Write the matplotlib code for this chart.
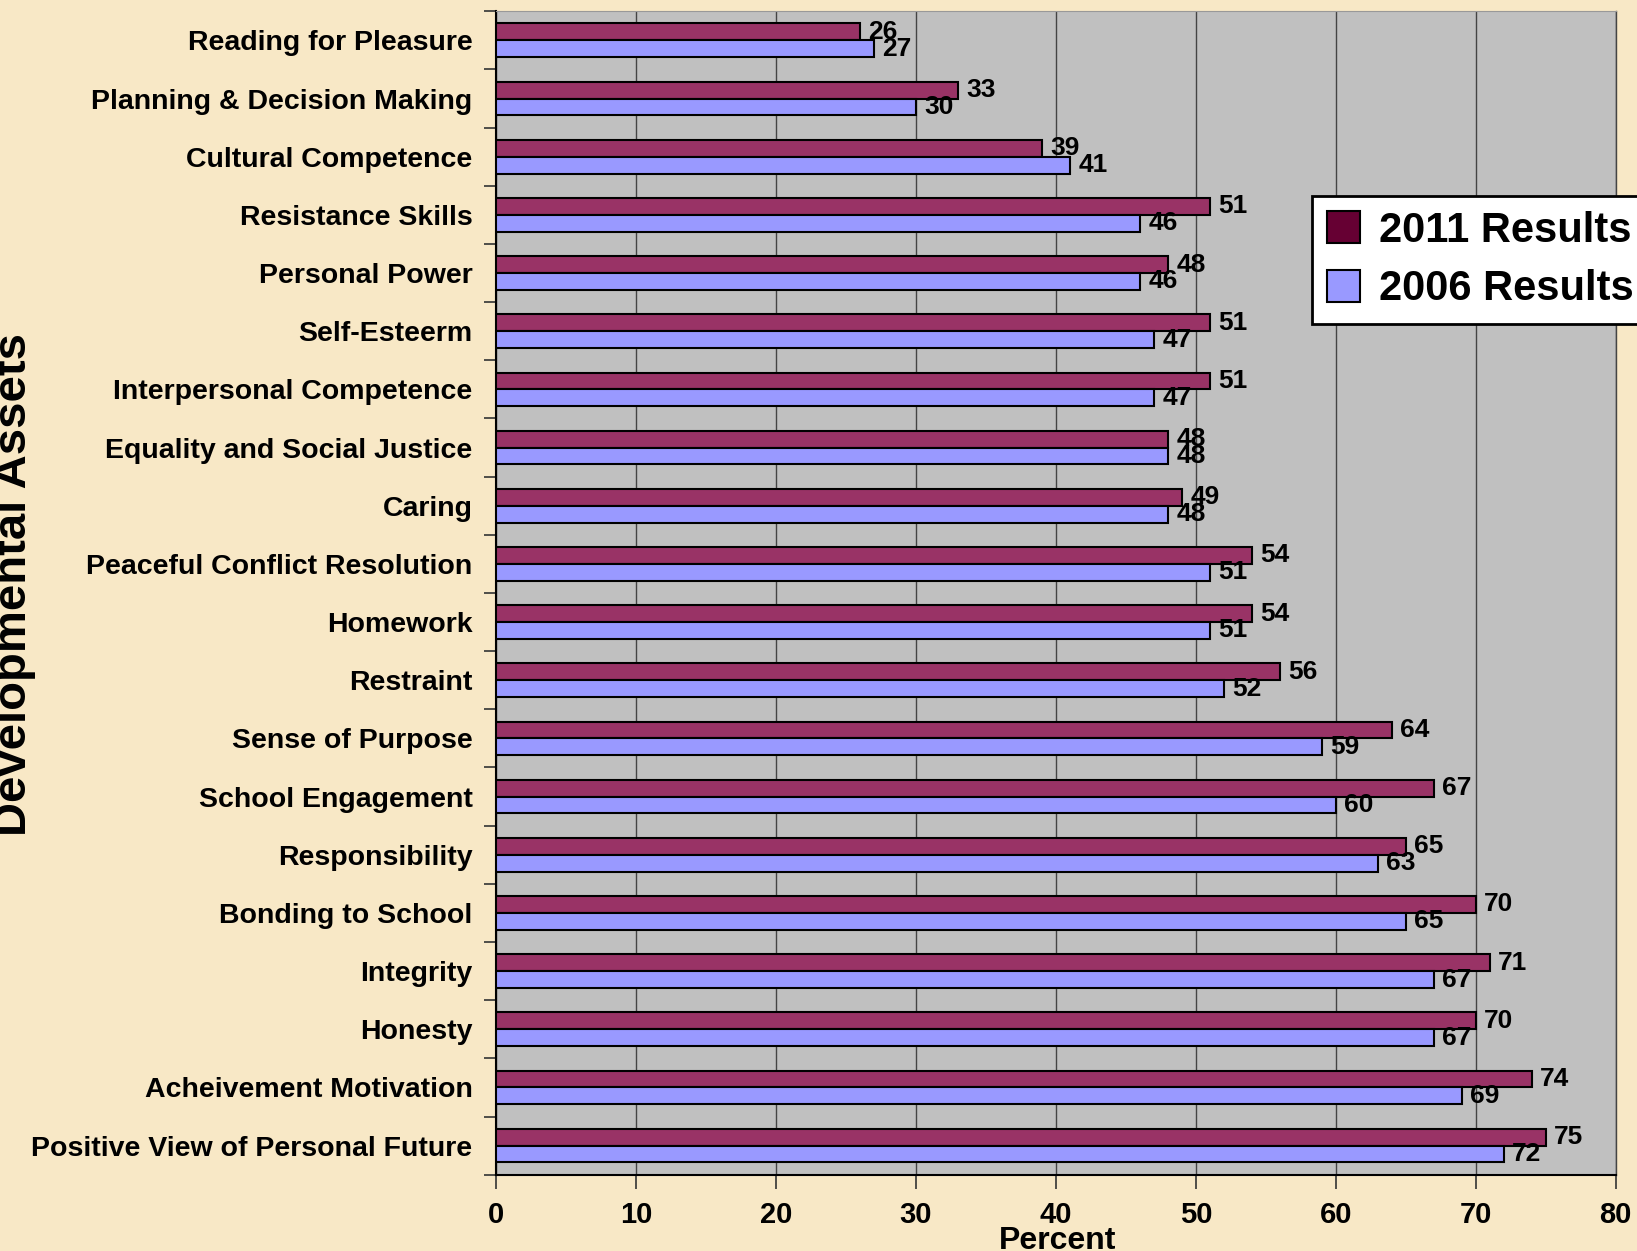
import matplotlib.pyplot as plt
from matplotlib.patches import Patch
from matplotlib.ticker import FixedLocator

plt.rcParams['font.family'] = ['Liberation Sans', 'DejaVu Sans']
plt.rcParams['font.weight'] = 'bold'

# Datos del grafico (de arriba hacia abajo)
categorias = ['Reading for Pleasure', 'Planning & Decision Making', 'Cultural Competence',
              'Resistance Skills', 'Personal Power', 'Self-Esteerm', 'Interpersonal Competence',
              'Equality and Social Justice', 'Caring', 'Peaceful Conflict Resolution', 'Homework',
              'Restraint', 'Sense of Purpose', 'School Engagement', 'Responsibility',
              'Bonding to School', 'Integrity', 'Honesty', 'Acheivement Motivation',
              'Positive View of Personal Future']
resultados_2011 = [26, 33, 39, 51, 48, 51, 51, 48, 49, 54, 54, 56, 64, 67, 65, 70, 71, 70, 74, 75]
resultados_2006 = [27, 30, 41, 46, 46, 47, 47, 48, 48, 51, 51, 52, 59, 60, 63, 65, 67, 67, 69, 72]
series = ['2011 Results', '2006 Results']
ticks_x = [0, 10, 20, 30, 40, 50, 60, 70, 80]

fondo = '#F8E8C6'
color_2011 = '#993366'
color_2006 = '#9999FF'

fig = plt.figure(figsize=(16.37, 12.51), dpi=100, facecolor=fondo)
ax = fig.add_axes([0.303, 0.061, 0.684, 0.930])
ax.set_facecolor('#C0C0C0')

pos = list(range(len(categorias)))
alto = 0.29
pos_2011 = [p - 0.145 for p in pos]
pos_2006 = [p + 0.145 for p in pos]
ax.barh(pos_2011, resultados_2011, height=alto, color=color_2011, edgecolor='black', linewidth=1.5, zorder=3)
ax.barh(pos_2006, resultados_2006, height=alto, color=color_2006, edgecolor='black', linewidth=1.5, zorder=3)

# Etiquetas de valor
for y, v in zip(pos_2011, resultados_2011):
    ax.annotate(str(v), (v, y), xytext=(6, 0), textcoords='offset points',
                va='center', ha='left', fontsize=19, fontweight='bold', zorder=4)
for y, v in zip(pos_2006, resultados_2006):
    ax.annotate(str(v), (v, y), xytext=(6, 0), textcoords='offset points',
                va='center', ha='left', fontsize=19, fontweight='bold', zorder=4)

ax.set_xlim(0, 80)
ax.set_ylim(len(categorias) - 0.5, -0.5)
ax.set_xticks(ticks_x)
ax.set_xticklabels([str(t) for t in ticks_x], fontsize=21, fontweight='bold')
ax.set_yticks(pos)
ax.set_yticklabels(categorias, fontsize=20.5, fontweight='bold')
ax.yaxis.set_minor_locator(FixedLocator([p - 0.5 for p in pos] + [len(pos) - 0.5]))
ax.tick_params(axis='y', which='major', length=0, pad=17)
ax.tick_params(axis='y', which='minor', length=9, width=1.2, color='#333333')
ax.tick_params(axis='x', length=10, width=1.2, color='#333333', pad=9)

ax.grid(axis='x', color='#444444', linewidth=1, zorder=1)
for lado in ['left', 'bottom']:
    ax.spines[lado].set_color('black')
    ax.spines[lado].set_linewidth(1.5)
ax.spines['top'].set_color('#999999')
ax.spines['right'].set_color('#444444')
ax.spines['right'].set_linewidth(1)

fig.text(1058 / 1637, 1 - 1249 / 1251, 'Percent', ha='center', va='baseline',
         fontsize=23, fontweight='bold')
fig.text(36 / 1637, 0.533, 'Developmental Assets', rotation=90, ha='right', va='center',
         fontsize=34, fontweight='bold')

manejadores = [Patch(facecolor='#660033', edgecolor='black', linewidth=1.5),
               Patch(facecolor=color_2006, edgecolor='black', linewidth=1.5)]
ley = fig.legend(manejadores, series, loc='upper left',
                 bbox_to_anchor=(1312 / 1637, 1 - 196 / 1251),
                 prop={'size': 30, 'weight': 'bold'}, frameon=True, fancybox=False,
                 handlelength=0.8, handleheight=0.8, handletextpad=0.45,
                 labelspacing=0.45, borderpad=0.35, borderaxespad=0)
ley.get_frame().set_edgecolor('black')
ley.get_frame().set_linewidth(2)
ley.get_frame().set_facecolor('white')
ley.get_frame().set_alpha(1)

fig.savefig('out.png', dpi=100, facecolor=fondo)
